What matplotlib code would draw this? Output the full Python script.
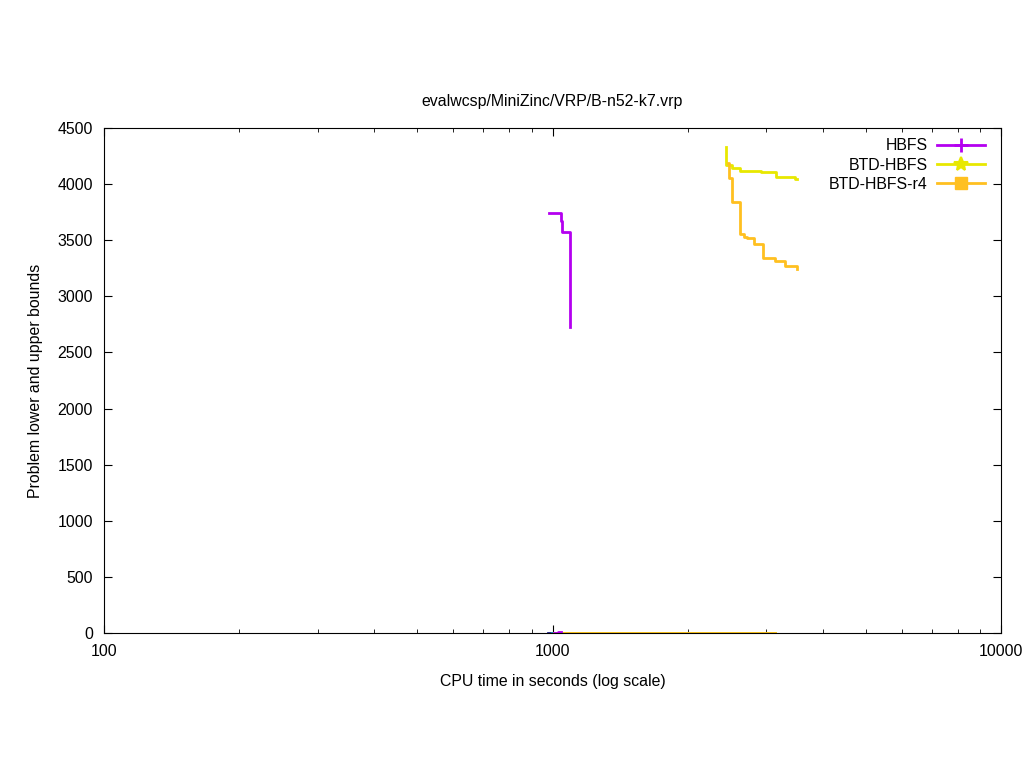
import numpy as np
import matplotlib
matplotlib.use('Agg')
import matplotlib.pyplot as plt
from matplotlib.lines import Line2D
from matplotlib.ticker import LogLocator, NullFormatter, MultipleLocator

plt.rcParams['font.family'] = ['Liberation Sans', 'DejaVu Sans']
FS = 11.4

# upper bounds (step curves)
hbfs_t = [982, 1044, 1052, 1094, 1094]
hbfs_v = [3740, 3670, 3575, 2730, 2730]

btd_t = [2437, 2440, 2509, 2618, 2912, 3146, 3170, 3473, 3510]
btd_v = [4330, 4170, 4147, 4117, 4110, 4065, 4060, 4045, 4045]

r4_t = [2460, 2480, 2510, 2620, 2670, 2720, 2810, 2940, 3140, 3300, 3500, 3510]
r4_v = [4190, 4058, 3845, 3556, 3530, 3520, 3468, 3345, 3315, 3270, 3245, 3245]

# lower bounds near zero
lb_navy_t = [975, 1000]
lb_navy_v = [0, 0]
lb_cyan_t = [998, 1022]
lb_cyan_v = [0, 0]
hbfs_lb_t = [1010, 1030, 1045]
hbfs_lb_v = [0, 12, 12]
btd_lb_t = [1010, 3140]
btd_lb_v = [2, 2]
r4_lb_t = [1010, 3140]
r4_lb_v = [2, 2]

c_hbfs = '#b400f0'
c_btd = '#e8e800'
c_r4 = '#ffc020'

fig = plt.figure(figsize=(10.24, 7.68), dpi=100)
ax = fig.add_axes([104 / 1024, 1 - 633 / 768, (1001 - 104) / 1024, (633 - 128) / 768])

lw = 2.0
ax.step(lb_navy_t, lb_navy_v, where='post', color='#1a1a8c', lw=lw)
ax.step(lb_cyan_t, lb_cyan_v, where='post', color='#00b0c0', lw=lw)
ax.step(btd_lb_t, btd_lb_v, where='post', color=c_btd, lw=lw)
ax.step(r4_lb_t, r4_lb_v, where='post', color=c_r4, lw=lw)
ax.step(hbfs_lb_t, hbfs_lb_v, where='post', color=c_hbfs, lw=lw)

ax.step(hbfs_t, hbfs_v, where='post', color=c_hbfs, lw=lw)
ax.step(btd_t, btd_v, where='post', color=c_btd, lw=lw)
ax.step(r4_t, r4_v, where='post', color=c_r4, lw=lw)

ax.set_xscale('log')
ax.set_xlim(100, 10000)
ax.set_ylim(0, 4500)
ax.yaxis.set_major_locator(MultipleLocator(500))
ax.xaxis.set_minor_locator(LogLocator(base=10, subs=np.arange(2, 10)))
ax.xaxis.set_minor_formatter(NullFormatter())
ax.set_xticks([100, 1000, 10000])
ax.set_xticklabels(['100', '1000', '10000'])
ax.tick_params(which='both', direction='in', top=True, right=True, labelsize=FS)
ax.tick_params(axis='x', pad=8)
ax.tick_params(axis='y', pad=8)
ax.tick_params(which='major', length=6)
ax.tick_params(which='minor', length=3)
for s in ax.spines.values():
    s.set_linewidth(0.8)

ax.set_title('evalwcsp/MiniZinc/VRP/B-n52-k7.vrp', fontsize=FS, pad=16)
ax.set_xlabel('CPU time in seconds (log scale)', fontsize=FS, labelpad=11)
ax.set_ylabel('Problem lower and upper bounds', fontsize=FS, labelpad=10)

handles = [
    Line2D([], [], color=c_hbfs, lw=lw, marker='+', markersize=10, markeredgewidth=2),
    Line2D([], [], color=c_btd, lw=lw, marker='*', markersize=10, markeredgewidth=1.5),
    Line2D([], [], color=c_r4, lw=lw, marker='s', markersize=8),
]
ax.legend(handles, ['HBFS', 'BTD-HBFS', 'BTD-HBFS-r4'], loc='upper right',
          frameon=False, markerfirst=False, handlelength=3.0, fontsize=FS,
          borderaxespad=0.0, borderpad=0.0, labelspacing=0.28, handletextpad=0.63,
          bbox_to_anchor=(0.982, 0.98))

fig.savefig('out.png', dpi=100)
